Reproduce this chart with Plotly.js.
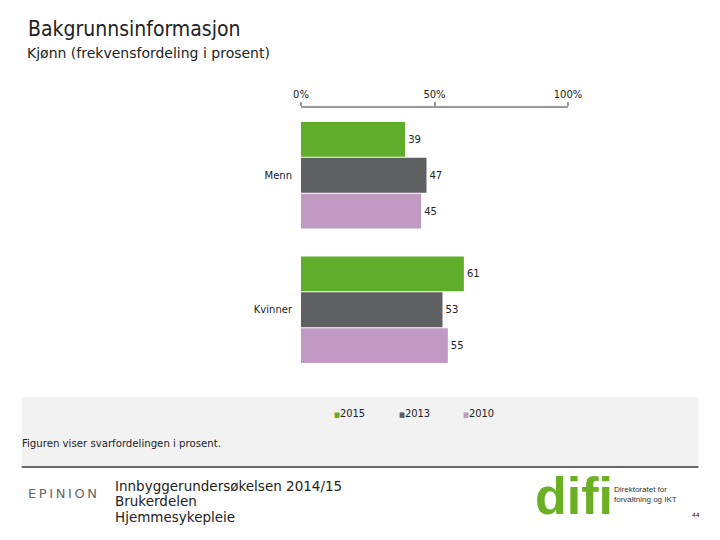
<!DOCTYPE html>
<html>
<head>
<meta charset="utf-8">
<script src="https://cdn.plot.ly/plotly-3.0.1.min.js"></script>
<style>html,body{margin:0;padding:0;background:#fff;}#chart{width:720px;height:540px;}</style>
</head>
<body>
<div id="chart"></div>
<script>
// ---- data ----
const categories = ['Menn', 'Kvinner'];
const years = ['2015', '2013', '2010'];
const values2015 = [39, 61];
const values2013 = [47, 53];
const values2010 = [45, 55];
const tickValues = [0, 50, 100];
const tickLabels = ['0%', '50%', '100%'];

const colors = {'2015': '#5fad2b', '2013': '#5f6062', '2010': '#c19ac4'};
const seriesValues = {'2015': values2015, '2013': values2013, '2010': values2010};

// plot area in pixels
const L = 301, R = 567.7, T = 108, B = 377;
const W = 720, H = 540;
const px = x => (x - L) / (R - L);
const py = y => 1 - (y - T) / (B - T);

const font = 'DejaVu Sans, Verdana, sans-serif';
const cond = 'DejaVu Sans Condensed, DejaVu Sans, sans-serif';

const traces = years.map(yr => ({
  type: 'bar', orientation: 'h', name: yr,
  y: categories, x: seriesValues[yr],
  marker: {color: colors[yr], line: {width: 0}},
  text: seriesValues[yr].map(String), textposition: 'outside',
  textfont: {family: font, size: 10, color: '#222'},
  cliponaxis: false, showlegend: false, hoverinfo: 'skip'
}));

const ann = (text, x, y, size, opts = {}) => Object.assign({
  text: text, xref: 'paper', yref: 'paper', x: px(x), y: py(y),
  xanchor: 'left', yanchor: 'middle', showarrow: false, borderpad: 0,
  font: {family: font, size: size, color: '#222'}
}, opts);

// legend built from the series names and colours
const legendAnns = years.map((yr, i) => ann(
  '<span style="font-size:7px;fill:' + colors[yr] + '">■</span>' + yr,
  333 + i * 64.5, 413, 11, {font: {family: cond, size: 11, color: '#222'}}
));

const layout = {
  width: W, height: H,
  margin: {l: L, r: W - R, t: T, b: H - B, pad: 0},
  paper_bgcolor: '#ffffff', plot_bgcolor: 'rgba(0,0,0,0)',
  barmode: 'group', bargap: 0.2, bargroupgap: 0.03,
  showlegend: false,
  xaxis: {
    side: 'top', range: [0, 100], tickvals: tickValues, ticktext: tickLabels,
    ticks: 'outside', ticklen: 4, tickwidth: 2, tickcolor: '#9a9a9a',
    showline: true, linecolor: '#9a9a9a', linewidth: 2,
    showgrid: false, zeroline: false, fixedrange: true,
    tickfont: {family: font, size: 10, color: '#222'}
  },
  yaxis: {
    type: 'category', autorange: 'reversed',
    showline: false, showgrid: false, zeroline: false,
    ticks: 'outside', ticklen: 6, tickcolor: 'rgba(0,0,0,0)',
    tickfont: {family: font, size: 10, color: '#222'}, fixedrange: true
  },
  shapes: [
    {type: 'rect', xref: 'paper', yref: 'paper', x0: px(22), x1: px(698), y0: py(397), y1: py(467),
     fillcolor: '#f2f2f2', line: {width: 0}, layer: 'below'},
    {type: 'line', xref: 'paper', yref: 'paper', x0: px(22), x1: px(698), y0: py(467), y1: py(467),
     line: {color: '#3a3a3a', width: 1.5}}
  ],
  annotations: [
    ann('Bakgrunnsinformasjon', 27.5, 29, 21, {font: {family: cond, size: 21, color: '#222'}}),
    ann('Kjønn (frekvensfordeling i prosent)', 26.5, 53, 14),
    ann('Figuren viser svarfordelingen i prosent.', 21.5, 443, 11.3, {font: {family: cond, size: 11.3, color: '#222'}}),
    ann('Innbyggerundersøkelsen 2014/15', 114.5, 485.5, 13.5),
    ann('Brukerdelen', 114.5, 501.2, 13.5),
    ann('Hjemmesykepleie', 114.5, 517, 13.5),
    ann('E\u2009P\u2009I\u2009N\u2009I\u2009O\u2009N', 27.5, 493, 13, {font: {family: font, size: 13, color: '#666'}}),
    ann('difi', 534, 496, 52, {font: {family: 'Liberation Sans, Arial, sans-serif', size: 52, color: '#6ab023', weight: 700}}),
    ann('Direktoratet for<br>forvaltning og IKT', 612.5, 494, 8, {align: 'left', font: {family: 'Liberation Sans, Arial, sans-serif', size: 8, color: '#333'}}),
    ann('44', 691, 514, 6, {font: {family: font, size: 6, color: '#222'}})
  ].concat(legendAnns)
};

Plotly.newPlot('chart', traces, layout, {displayModeBar: false, staticPlot: true});
</script>
</body>
</html>
